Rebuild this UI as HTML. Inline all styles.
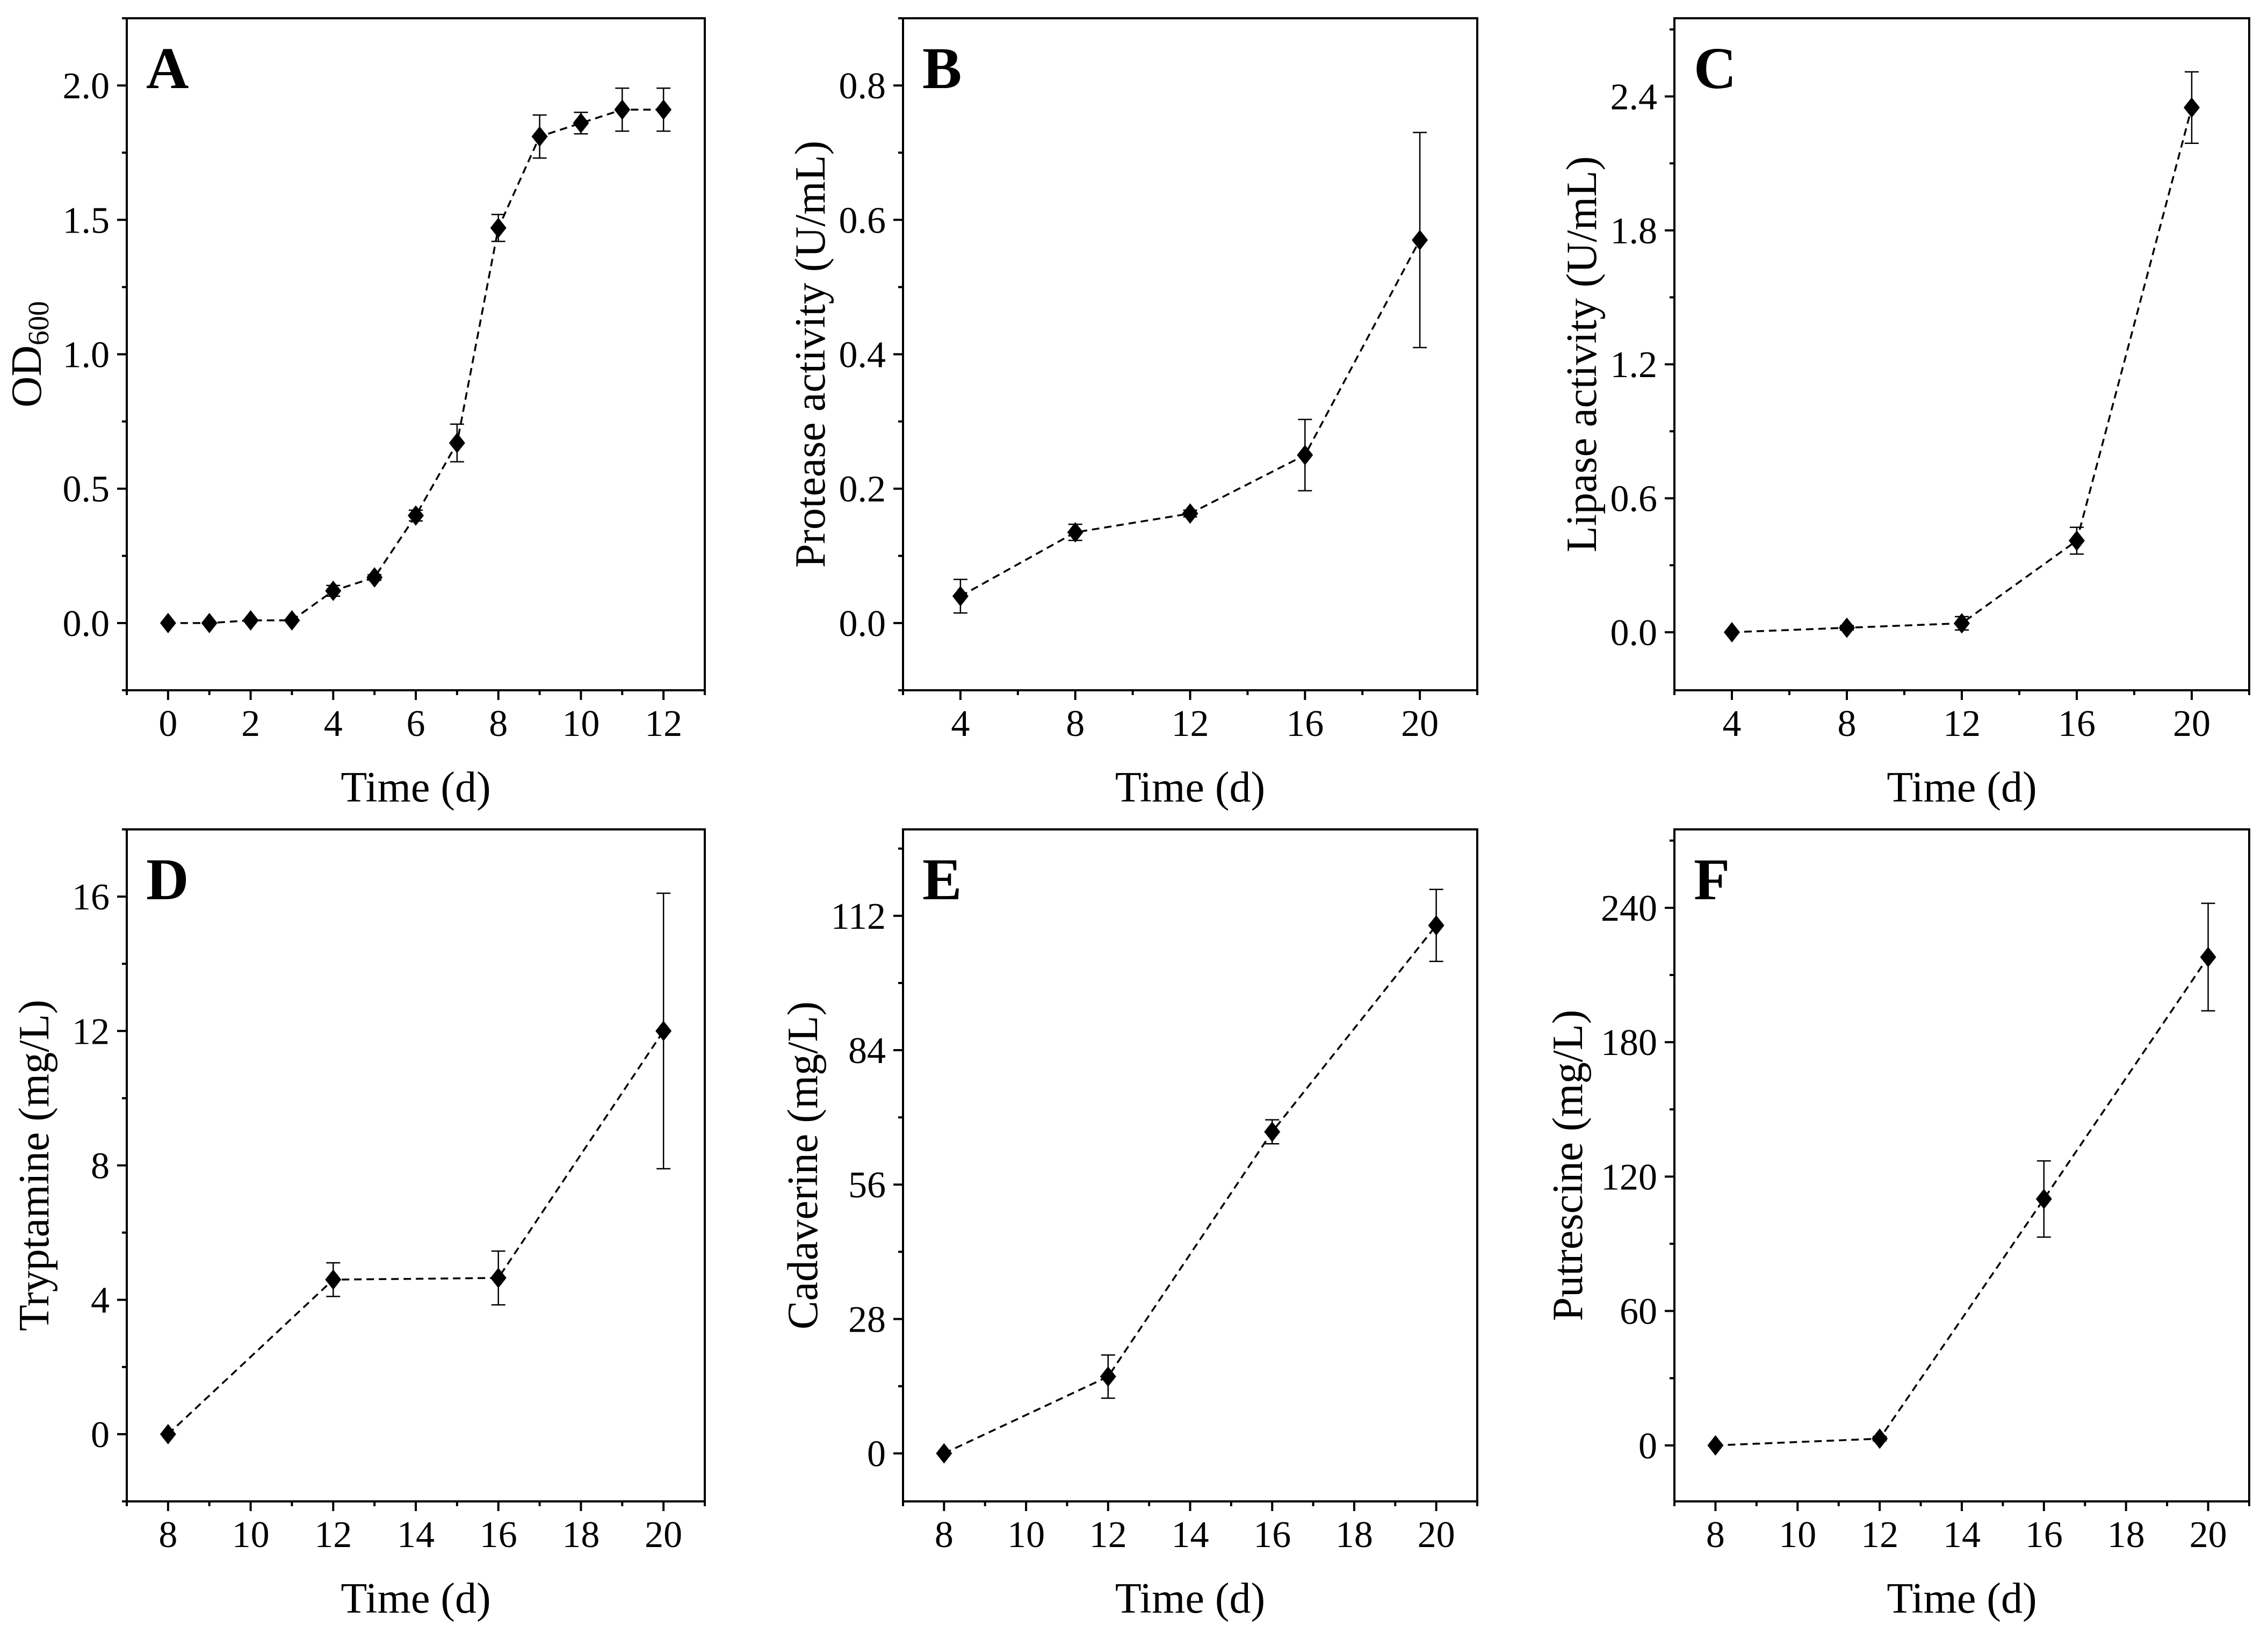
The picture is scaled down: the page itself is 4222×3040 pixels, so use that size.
<!DOCTYPE html>
<html><head><meta charset="utf-8"><style>
html,body{margin:0;padding:0;background:#fff;}
svg{display:block;}
text{font-family:"Liberation Serif",serif;fill:#000;}
</style></head><body>
<svg id="fig" width="4222" height="3040" viewBox="0 0 4222 3040" xmlns="http://www.w3.org/2000/svg"></svg>
<script>
// Panel A: OD600
const aX = [0,1,2,3,4,5,6,7,8,9,10,11,12];
const aY = [0,0,0.01,0.01,0.12,0.17,0.40,0.67,1.47,1.81,1.86,1.91,1.91];
const aE = [0,0,0,0,0.02,0.01,0.02,0.07,0.05,0.08,0.04,0.08,0.08];
// Panel B: Protease
const bX = [4,8,12,16,20];
const bY = [0.04,0.135,0.163,0.25,0.57];
const bE = [0.025,0.012,0.005,0.053,0.16];
// Panel C: Lipase
const cX = [4,8,12,16,20];
const cY = [0,0.02,0.04,0.41,2.35];
const cE = [0,0.01,0.03,0.06,0.16];
// Panel D: Tryptamine
const dX = [8,12,16,20];
const dY = [0,4.6,4.65,12.0];
const dE = [0,0.5,0.8,4.1];
// Panel E: Cadaverine
const eX = [8,12,16,20];
const eY = [0,16,67,110];
const eE = [0,4.5,2.5,7.5];
// Panel F: Putrescine
const fX = [8,12,16,20];
const fY = [0,3,110,218];
const fE = [0,1,17,24];
// tick labels
const aXt = [0,2,4,6,8,10,12], aYt = ["0.0","0.5","1.0","1.5","2.0"];
const bXt = [4,8,12,16,20], bYt = ["0.0","0.2","0.4","0.6","0.8"];
const cXt = [4,8,12,16,20], cYt = ["0.0","0.6","1.2","1.8","2.4"];
const dXt = [8,10,12,14,16,18,20], dYt = ["0","4","8","12","16"];
const eXt = [8,10,12,14,16,18,20], eYt = ["0","28","56","84","112"];
const fXt = [8,10,12,14,16,18,20], fYt = ["0","60","120","180","240"];

const NS="http://www.w3.org/2000/svg";
const svg=document.getElementById('fig');
function mk(tag,attrs,parent){const e=document.createElementNS(NS,tag);for(const k in attrs)e.setAttribute(k,attrs[k]);(parent||svg).appendChild(e);return e;}

function panel(cfg){
  const g=mk('g',{});
  
  
  const L=cfg.x0,R=cfg.x1,T=cfg.y0,B=cfg.y1;
  const sx=v=>L+(v-cfg.xmin)/(cfg.xmax-cfg.xmin)*(R-L);
  const sy=v=>B-(v-cfg.ymin)/(cfg.ymax-cfg.ymin)*(B-T);
  const fr=mk('rect',{x:L,y:T,width:R-L,height:B-T,fill:'none',stroke:'#000','stroke-width':4},g);
  
  
  for(let v=cfg.xmin;v<=cfg.xmax+1e-9;v+=cfg.xminor){
    const major=cfg.xt.some(t=>Math.abs(t-v)<1e-9);
    mk('line',{x1:sx(v),x2:sx(v),y1:B,y2:B+(major?18:9),stroke:'#000','stroke-width':4},g);
  }
  cfg.xt.forEach(t=>{const tx=mk('text',{x:sx(t),y:B+85,'font-size':70,'text-anchor':'middle'},g);tx.textContent=t;
    
    });
  const ystep=cfg.ystep;
  for(let v=cfg.ybase-ystep*10;v<=cfg.ymax+1e-9;v+=ystep/2){
    if(v<cfg.ymin-1e-9)continue;
    const k=Math.round((v-cfg.ybase)/(ystep/2));
    mk('line',{x1:L,x2:L-(k%2===0?18:9),y1:sy(v),y2:sy(v),stroke:'#000','stroke-width':4},g);
  }
  cfg.yt.forEach((t,i)=>{const tx=mk('text',{x:L-32,y:sy(cfg.ybase+i*ystep)+24,'font-size':70,'text-anchor':'end'},g);tx.textContent=t;
    
    });
  const xt=mk('text',{x:(L+R)/2,y:B+207,'font-size':80,'text-anchor':'middle'},g);xt.textContent='Time (d)';
  
  
  const yx=L-cfg.ytoff, yy=(T+B)/2;
  const yt=mk('text',{x:yx,y:yy,'font-size':80,'text-anchor':'middle',transform:`rotate(-90 ${yx} ${yy})`},g);
  
  
  if(cfg.sub){yt.textContent=cfg.ytitle;const s=mk('tspan',{'font-size':55,dy:14},yt);s.textContent=cfg.sub;}
  else yt.textContent=cfg.ytitle;
  const lt=mk('text',{x:L+36,y:T+130,'font-size':110,'font-weight':'bold'},g);lt.textContent=cfg.letter;
  
  
  const pts=cfg.X.map((x,i)=>sx(x)+','+sy(cfg.Y[i])).join(' ');
  const pl=mk('polyline',{points:pts,fill:'none',stroke:'#000','stroke-width':3.5,'stroke-dasharray':'14 9'},g);
  
  
  cfg.X.forEach((x,i)=>{
    const cx=sx(x),cy=sy(cfg.Y[i]),e=cfg.E[i];
    if(e>0){
      const y1=sy(cfg.Y[i]+e),y2=sy(cfg.Y[i]-e);
      const eb=mk('path',{d:`M${cx},${y1}V${y2}M${cx-13},${y1}H${cx+13}M${cx-13},${y2}H${cx+13}`,stroke:'#000','stroke-width':2.5,fill:'none'},g);
      
      
    }
    const m=mk('path',{d:`M${cx},${cy-19}L${cx+15},${cy}L${cx},${cy+19}L${cx-15},${cy}Z`,fill:'#000'},g);
    
    
  });
}
const col=[[236,1312],[1681,2750],[3117,4187]];
const row=[[34,1285],[1544,2795]];
panel({letter:'A',x0:col[0][0],x1:col[0][1],y0:row[0][0],y1:row[0][1],xmin:-1,xmax:13,xminor:1,xt:aXt,ymin:-0.25,ymax:2.25,ybase:0,ystep:0.5,yt:aYt,ytitle:'OD',sub:'600',ytoff:160,X:aX,Y:aY,E:aE});
panel({letter:'B',x0:col[1][0],x1:col[1][1],y0:row[0][0],y1:row[0][1],xmin:2,xmax:22,xminor:2,xt:bXt,ymin:-0.1,ymax:0.9,ybase:0,ystep:0.2,yt:bYt,ytitle:'Protease activity (U/mL)',ytoff:146,X:bX,Y:bY,E:bE});
panel({letter:'C',x0:col[2][0],x1:col[2][1],y0:row[0][0],y1:row[0][1],xmin:2,xmax:22,xminor:2,xt:cXt,ymin:-0.26,ymax:2.75,ybase:0,ystep:0.6,yt:cYt,ytitle:'Lipase activity (U/mL)',ytoff:146,X:cX,Y:cY,E:cE});
panel({letter:'D',x0:col[0][0],x1:col[0][1],y0:row[1][0],y1:row[1][1],xmin:7,xmax:21,xminor:1,xt:dXt,ymin:-2,ymax:18,ybase:0,ystep:4,yt:dYt,ytitle:'Tryptamine (mg/L)',ytoff:146,X:dX,Y:dY,E:dE});
panel({letter:'E',x0:col[1][0],x1:col[1][1],y0:row[1][0],y1:row[1][1],xmin:7,xmax:21,xminor:1,xt:eXt,ymin:-10,ymax:130,ybase:0,ystep:28,yt:eYt,ytitle:'Cadaverine (mg/L)',ytoff:160,X:eX,Y:eY,E:eE});
panel({letter:'F',x0:col[2][0],x1:col[2][1],y0:row[1][0],y1:row[1][1],xmin:7,xmax:21,xminor:1,xt:fXt,ymin:-25,ymax:275,ybase:0,ystep:60,yt:fYt,ytitle:'Putrescine (mg/L)',ytoff:172,X:fX,Y:fY,E:fE});
</script>
</body></html>
